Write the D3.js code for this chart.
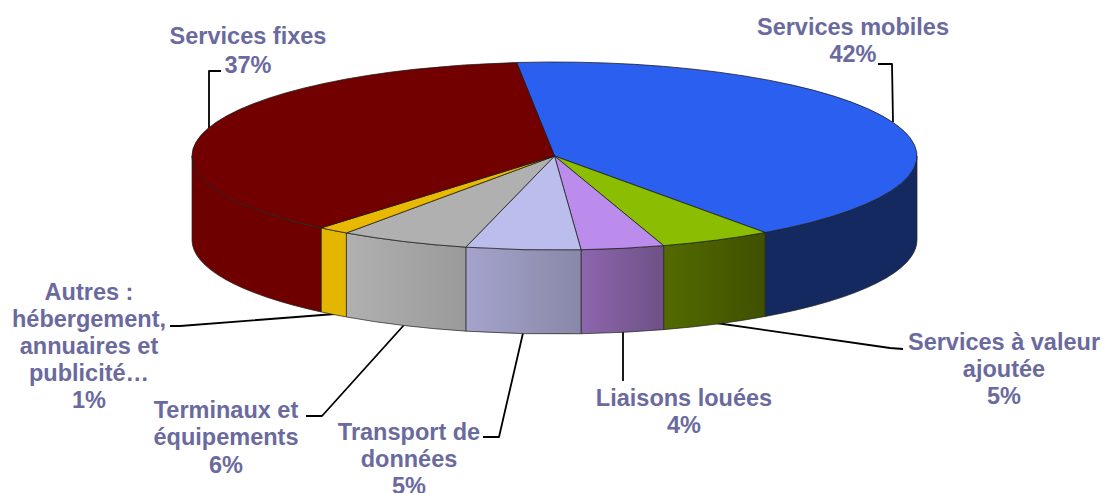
<!DOCTYPE html>
<html><head><meta charset="utf-8">
<script src="https://cdnjs.cloudflare.com/ajax/libs/d3/7.8.5/d3.min.js"></script>
<style>html,body{margin:0;padding:0;background:#fff}svg{display:block}
text{font-family:"Liberation Sans",Arial,sans-serif;font-weight:700;font-size:23.5px;fill:#6a6a9e;text-anchor:middle}</style>
</head><body><svg id="c" width="1103" height="493"></svg>
<script>
// Data
const categories = ["Services mobiles","Services à valeur ajoutée","Liaisons louées","Transport de données","Terminaux et équipements","Autres : hébergement, annuaires et publicité…","Services fixes"];
const values = [41.8,5.0,3.7,5.1,5.8,1.4,37.2];
const topColors = ["#2b5fef","#8bbd00","#bc8ced","#bbbded","#b0b0b0","#e8b900","#730000"];
const wallFrom = ["#13295f","#536a00","#8d66ae","#a5a3cc","#b0b0b0","#e3b600","#6f0000"];
const wallTo   = ["#13295f","#3f5000","#6e5186","#8888a8","#9a9a9a","#e3b600","#6f0000"];
const labelLines = [
  ["Services mobiles","42%"],
  ["Services à valeur","ajoutée","5%"],
  ["Liaisons louées","4%"],
  ["Transport de","données","5%"],
  ["Terminaux et","équipements","6%"],
  ["Autres :","hébergement,","annuaires et","publicité…","1%"],
  ["Services fixes","37%"]
];
// Layout
const labelX = [853,1004,684,409,226,89,248];
const labelY = [34.5,349.5,405.5,440,417.5,299.5,43.5];
const lineGaps = [27.5,27.2,27.5,27.2,27.5,27.2,29];
const leaders = [
  [[878,64],[892,64],[893,122]],
  [[716,323],[890,348],[903,349]],
  [[623,332],[623,381]],
  [[523,333],[499,437],[483,437]],
  [[404,325],[322,416],[306,416]],
  [[335,314],[180,326],[170,326]],
  [[221,71],[209,71],[209,128]]
];
const cx=554.5, cy=156, rx=362.5, ry=94, depth=84;
const startDeg=-6;

const svg=d3.select("#c");
const pie=d3.pie().sort(null).startAngle(startDeg*Math.PI/180).endAngle((startDeg+360)*Math.PI/180);
const arcs=pie(values);
const ex=a=>cx+rx*Math.sin(a), ey=a=>cy-ry*Math.cos(a);

const defs=svg.append("defs");
arcs.forEach((d,i)=>{
  const g=defs.append("linearGradient").attr("id","w"+i);
  g.append("stop").attr("offset",0).attr("stop-color",wallFrom[i]);
  g.append("stop").attr("offset",1).attr("stop-color",wallTo[i]);
});

// Leader lines
const lineGen=d3.line().curve(d3.curveLinear);
svg.append("g").selectAll("path").data(leaders).join("path")
  .attr("d",d=>lineGen(d)).attr("fill","none").attr("stroke","#000").attr("stroke-width",1.8)
  .attr("stroke-linejoin","round");

// Outer walls (front half only)
const lo=Math.PI/2, hi=3*Math.PI/2;
svg.append("g").selectAll("path").data(arcs.filter(d=>d.endAngle>lo&&d.startAngle<hi)).join("path")
  .attr("d",d=>{
    const a=Math.max(d.startAngle,lo), b=Math.min(d.endAngle,hi);
    return `M${ex(a)},${ey(a)}A${rx},${ry} 0 0 1 ${ex(b)},${ey(b)}L${ex(b)},${ey(b)+depth}A${rx},${ry} 0 0 0 ${ex(a)},${ey(a)+depth}Z`;
  })
  .attr("fill",d=>`url(#w${d.index})`)
  .attr("stroke","#222").attr("stroke-opacity",.7).attr("stroke-width",1);

// Top face
const arcGen=d3.arc().innerRadius(0).outerRadius(rx);
svg.append("g").attr("transform",`translate(${cx},${cy}) scale(1,${ry/rx})`)
  .selectAll("path").data(arcs).join("path")
  .attr("d",arcGen).attr("fill",d=>topColors[d.index])
  .attr("stroke","#1a1a1a").attr("stroke-opacity",.75).attr("stroke-width",1)
  .style("vector-effect","non-scaling-stroke");

// Labels
const t=svg.append("g").selectAll("text").data(labelLines).join("text")
  .attr("x",(d,i)=>labelX[i]).attr("y",(d,i)=>labelY[i]);
t.selectAll("tspan").data((d,i)=>d.map(s=>({s,i}))).join("tspan")
  .attr("x",d=>labelX[d.i]).attr("dy",(d,j)=>j?lineGaps[d.i]:0).text(d=>d.s);
</script></body></html>
